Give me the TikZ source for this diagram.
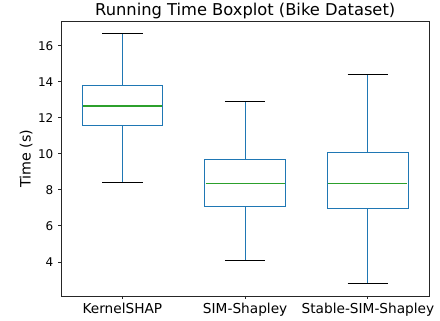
\documentclass[tikz,border=0pt]{standalone}
\usepackage{fontspec}
\setmainfont{DejaVu Sans}
\definecolor{mplblue}{RGB}{31,119,180}
\definecolor{mplgreen}{RGB}{44,160,44}
\tikzset{
  boxline/.style={draw, color=mplblue, line width=1.1pt},
  medianline/.style={draw, color=mplgreen, line width=1.5pt},
  capline/.style={draw, color=black, line width=1.1pt},
  spine/.style={draw, color=black!85, line width=1pt, line cap=rect},
  tickmark/.style={draw, color=black!85, line width=1pt},
  yticklabel/.style={font=\fontsize{12}{12}\selectfont, anchor=east, inner sep=0pt},
  xticklabel/.style={font=\fontsize{13.7}{14}\selectfont, anchor=base, inner sep=0pt},
  titletext/.style={font=\fontsize{16.3}{17}\selectfont, anchor=base, inner sep=0pt},
  axislabel/.style={font=\fontsize{14.3}{15}\selectfont, anchor=base, inner sep=0pt, rotate=90},
}
% one box: position, lower whisker, Q1, median, Q3, upper whisker
% (the median ends are stored as coordinates ml<pos>, mr<pos>)
\newcommand\drawbox[6]{%
  \draw[boxline] (#1-0.328,#3) rectangle (#1+0.328,#5);
  \draw[boxline] (#1,#3) -- (#1,#2);
  \draw[boxline] (#1,#5) -- (#1,#6);
  \draw[capline] (#1-0.165,#2) -- (#1+0.165,#2);
  \draw[capline] (#1-0.165,#6) -- (#1+0.165,#6);
  \coordinate (ml#1) at (#1-0.322,#4);
  \coordinate (mr#1) at (#1+0.322,#4);
}
\begin{document}
\begin{tikzpicture}[x=1pt, y=-1pt]
  \useasboundingbox (0,0) rectangle (440,321);
  \fill[white] (0,0) rectangle (440,321);

  % data area: x in box positions, y in seconds
  \begin{scope}[shift={(-0.385pt,-334pt)}, x=122.77pt, y=18pt]
    \drawbox{1}{8.43}{11.57}{12.67}{13.82}{16.68}
    \drawbox{2}{4.06}{7.06}{8.37}{9.67}{12.94}
    \drawbox{3}{2.79}{6.96}{8.37}{10.07}{14.43}
    % medians, all in one path
    \draw[medianline] (ml1) -- (mr1) (ml2) -- (mr2) (ml3) -- (mr3);

    \foreach \v in {4,6,...,16} {
      \coordinate (yt\v) at (0.5,\v);
      \draw[tickmark] (yt\v) -- ++(-3.5pt,0);
      \node[yticklabel] (ylab\v) at ([xshift=-7.5pt]yt\v) {\v};
    }
    \foreach \p/\name in {1/KernelSHAP, 2/SIM-Shapley, 3/Stable-SIM-Shapley} {
      \coordinate (xt\p) at (\p,2.1222);
      \draw[tickmark] (xt\p) -- ++(0,-3.5pt);
      \node[xticklabel] (xlab\p) at ([yshift=-17.7pt]xt\p) {\name};
    }
  \end{scope}

  % frame of the axes
  \draw[spine] (61,21.7) rectangle (429.3,296);

  \node[titletext] (title) at (245.2,15.7) {Running Time Boxplot (Bike Dataset)};
  \node[axislabel] (ylabel) at (30.7,158.9) {Time (s)};
\end{tikzpicture}
\end{document}
